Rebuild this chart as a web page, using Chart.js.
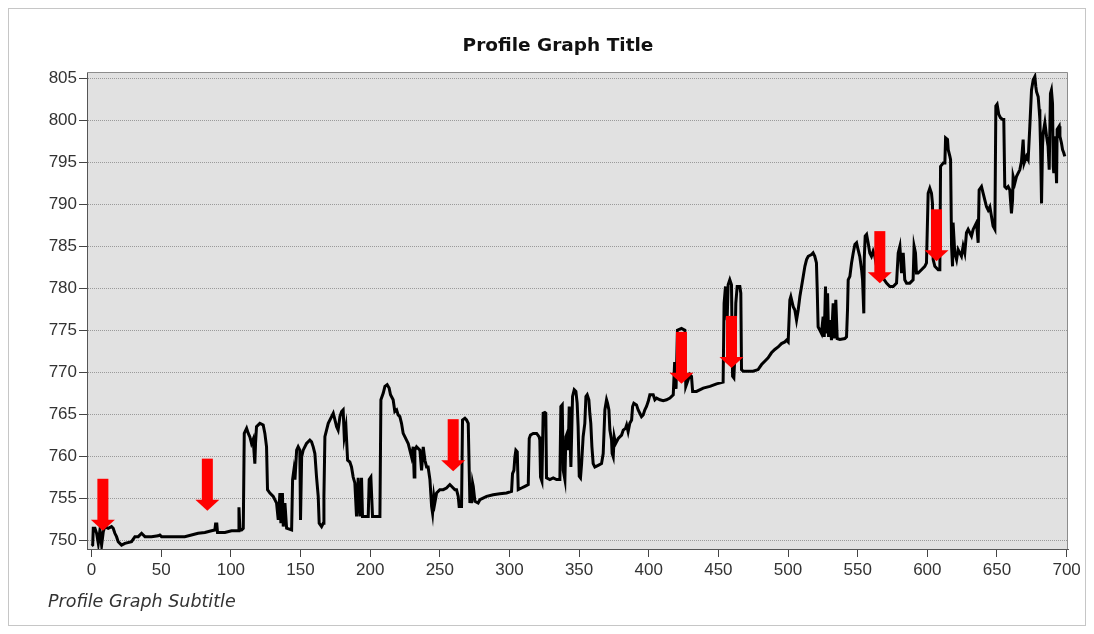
<!DOCTYPE html>
<html lang="en">
  <head>
    <meta charset="UTF-8" />
    <title>Profile Graph</title>
    <script src="https://cdn.jsdelivr.net/npm/chart.js"></script>
    <style>
      html, body { margin: 0; padding: 0; background: #ffffff; }
      #wrap { width: 1094px; height: 634px; }
    </style>
  </head>
  <body>
    <div id="wrap"><canvas id="profileChart" width="1094" height="634"></canvas></div>

    <script>
      // profile samples (distance along track, elevation)
      const distance = [
        0, 0.8, 1.2, 2.4, 3.6, 4.8, 6.0, 7.2, 8.4, 9.5, 11.9, 14.3, 15.5, 16.7, 17.9, 19.1, 20.3, 21.5, 23.9, 28.7,
        31.1, 33.5, 35.9, 37.1, 38.3, 43.0, 47.8, 49.0, 50.2, 57.4, 66.9, 71.7, 76.5, 81.3, 86.1, 88.5, 89.0, 89.9, 90.4, 95.7,
        100.5, 105.3, 105.8, 106.5, 107.7, 108.9, 109.6, 111.3, 112.5, 113.6, 114.8, 116.0, 117.2, 117.7, 118.4, 120.8, 123.2, 124.4, 125.6, 126.3,
        128.0, 130.4, 132.8, 134.0, 135.2, 135.9, 137.0, 137.6, 138.8, 140.0, 143.6, 144.3, 145.2, 146.0, 147.2, 148.3, 149.5, 150.0, 150.8, 151.9,
        154.3, 156.7, 157.9, 159.1, 160.3, 161.5, 162.7, 163.4, 165.1, 166.3, 166.8, 167.5, 169.9, 172.3, 173.5, 174.7, 175.9, 177.0, 178.3, 179.5,
        180.6, 181.4, 182.6, 183.8, 185.4, 186.6, 187.8, 189.0, 190.2, 191.4, 192.6, 193.8, 194.5, 198.6, 199.3, 200.5, 201.7, 207.0, 207.7, 209.4,
        210.6, 212.2, 213.6, 214.6, 216.5, 217.7, 219.0, 220.1, 221.3, 222.5, 223.7, 226.1, 227.3, 228.5, 229.7, 230.9, 231.6, 232.1, 233.3, 235.7,
        236.9, 238.1, 239.3, 240.5, 241.6, 242.9, 244.1, 244.8, 245.7, 246.4, 247.7, 250.0, 252.4, 254.8, 256.0, 257.2, 258.4, 259.6, 260.8, 262.0,
        263.2, 263.9, 265.6, 266.3, 268.0, 269.2, 270.4, 271.6, 272.1, 272.8, 273.5, 274.0, 275.2, 277.5, 278.8, 283.6, 288.3, 293.1, 297.9, 301.5,
        302.2, 303.2, 303.9, 304.6, 305.6, 306.3, 308.7, 311.1, 313.5, 314.2, 315.1, 317.1, 319.5, 321.3, 321.8, 322.3, 323.3, 324.2, 325.4, 326.1,
        326.6, 329.0, 331.4, 333.8, 336.2, 336.9, 337.9, 338.6, 339.8, 340.5, 341.4, 342.2, 342.9, 344.1, 345.3, 346.5, 347.7, 348.6, 349.3, 350.1,
        351.0, 351.8, 352.9, 354.1, 354.9, 355.8, 357.0, 357.7, 358.4, 359.2, 360.1, 361.3, 363.7, 366.1, 367.3, 368.5, 369.7, 370.4, 371.4, 372.1,
        373.3, 373.7, 374.5, 375.2, 376.2, 378.1, 380.5, 381.7, 383.3, 384.1, 385.2, 386.4, 387.7, 388.4, 389.3, 391.2, 392.4, 393.6, 394.8, 396.0,
        397.2, 398.4, 399.6, 400.8, 403.2, 404.4, 405.6, 408.0, 410.4, 412.8, 415.2, 417.6, 418.6, 419.6, 420.6, 423.5, 425.9, 426.6, 428.3, 429.5,
        430.7, 431.5, 434.3, 439.1, 443.9, 448.7, 453.4, 454.1, 455.1, 456.3, 457.0, 458.2, 459.4, 460.2, 461.1, 461.8, 462.5, 463.5, 465.4, 466.1,
        466.6, 467.8, 474.9, 478.5, 481.0, 483.3, 485.7, 488.1, 490.5, 492.9, 495.3, 497.7, 498.9, 500.1, 501.3, 502.0, 503.7, 504.9, 506.1, 507.3,
        508.5, 509.7, 510.9, 512.1, 513.3, 514.5, 516.9, 518.0, 519.2, 520.4, 520.9, 521.6, 522.8, 524.0, 525.2, 526.0, 526.9, 527.6, 528.4, 529.1,
        530.0, 531.2, 532.4, 533.1, 534.3, 535.3, 537.2, 540.8, 542.0, 542.7, 543.2, 544.4, 545.6, 546.8, 548.0, 549.2, 550.3, 551.5, 552.8, 553.5,
        554.4, 554.7, 555.4, 556.4, 557.5, 558.7, 559.9, 561.1, 562.3, 564.0, 565.9, 570.7, 573.1, 575.5, 577.9, 579.1, 580.3, 581.5, 582.7, 583.8,
        585.1, 587.4, 589.8, 590.5, 591.5, 592.2, 593.4, 595.8, 598.2, 599.4, 600.6, 601.8, 603.0, 603.7, 604.2, 605.4, 607.8, 609.0, 609.5, 611.4,
        612.6, 613.1, 614.5, 615.0, 616.2, 616.7, 617.4, 618.1, 618.5, 619.7, 621.0, 622.1, 623.3, 624.5, 625.7, 626.9, 628.1, 629.3, 630.5, 631.7,
        632.9, 634.1, 635.3, 636.5, 637.2, 638.9, 640.1, 641.3, 642.5, 643.7, 644.9, 646.1, 647.2, 648.5, 649.2, 650.1, 651.3, 652.5, 654.0, 654.9,
        655.6, 656.8, 658.0, 659.2, 660.4, 661.2, 661.6, 662.8, 664.0, 666.4, 667.6, 668.8, 669.5, 671.2, 672.4, 673.6, 674.8, 676.0, 677.2, 677.9,
        678.4, 679.6, 680.3, 680.8, 681.3, 682.0, 682.7, 683.2, 684.4, 685.6, 686.7, 687.5, 688.4, 689.1, 689.9, 690.4, 690.8, 691.5, 692.8, 693.2,
        694.7, 695.2, 696.3, 697.1, 698.0, 698.7
      ];
      const elevation = [
        749.3, 749.4, 751.4, 751.4, 750.8, 749.6, 751.2, 749.4, 751.0, 751.6, 751.4, 751.6, 751.4, 750.8, 750.4, 749.8, 749.6, 749.4, 749.6, 749.8,
        750.4, 750.4, 750.8, 750.6, 750.4, 750.4, 750.5, 750.6, 750.4, 750.4, 750.4, 750.6, 750.8, 750.9, 751.1, 751.2, 751.9, 751.9, 750.9, 750.9,
        751.1, 751.1, 753.9, 751.2, 751.2, 751.4, 762.7, 763.3, 762.7, 762.3, 761.5, 762.0, 759.1, 761.5, 763.5, 763.9, 763.7, 762.7, 761.1, 756.0,
        755.6, 755.2, 754.4, 752.4, 755.6, 752.0, 755.6, 751.6, 754.4, 751.4, 751.2, 757.2, 758.3, 757.2, 760.7, 761.1, 760.7, 752.4, 759.9, 760.7,
        761.5, 761.9, 761.7, 761.1, 760.3, 757.5, 755.2, 752.0, 751.6, 752.0, 755.2, 762.3, 763.9, 764.7, 765.1, 764.3, 763.5, 763.1, 764.7, 765.3,
        765.5, 762.3, 763.5, 759.5, 759.3, 758.7, 757.5, 756.8, 752.8, 757.4, 752.8, 757.4, 752.8, 752.8, 757.2, 757.5, 752.8, 752.8, 766.7, 767.5,
        768.3, 768.5, 768.1, 767.3, 766.7, 765.3, 765.5, 764.9, 764.7, 763.9, 762.7, 761.9, 761.5, 760.7, 759.9, 761.1, 757.5, 760.7, 761.1, 760.7,
        758.3, 761.1, 759.5, 758.7, 758.7, 757.2, 754.0, 753.2, 755.2, 754.4, 755.6, 756.0, 756.0, 756.2, 756.4, 756.6, 756.4, 756.2, 756.0, 756.0,
        755.2, 754.0, 754.0, 764.3, 764.5, 764.3, 763.9, 754.4, 756.4, 754.4, 756.8, 756.4, 754.6, 754.4, 754.8, 755.2, 755.4, 755.5, 755.6, 755.8,
        757.9, 758.3, 759.9, 760.7, 760.5, 756.0, 756.2, 756.4, 756.6, 762.1, 762.5, 762.7, 762.7, 762.3, 761.9, 757.5, 757.0, 765.1, 765.2, 765.1,
        757.4, 757.2, 757.4, 757.2, 757.2, 765.9, 766.1, 758.3, 757.2, 762.3, 762.7, 760.7, 765.9, 758.7, 767.1, 767.9, 767.7, 766.3, 763.5, 757.6,
        757.4, 759.1, 762.3, 763.9, 767.1, 767.3, 766.7, 765.1, 763.9, 761.1, 759.1, 758.7, 758.9, 759.1, 760.3, 765.5, 766.7, 766.3, 765.5, 763.1,
        761.9, 760.3, 759.9, 762.3, 761.5, 762.1, 762.5, 763.1, 763.3, 763.7, 762.9, 763.9, 764.3, 765.9, 766.3, 766.1, 765.5, 765.1, 764.7, 764.9,
        765.5, 765.9, 766.5, 767.3, 767.3, 766.7, 766.9, 766.7, 766.6, 766.7, 766.9, 767.3, 771.2, 768.0, 775.0, 775.2, 775.0, 768.3, 769.1, 769.7,
        769.5, 767.7, 767.7, 768.1, 768.3, 768.6, 768.8, 778.2, 780.2, 776.2, 780.4, 781.0, 780.4, 769.5, 769.3, 771.9, 778.2, 780.2, 780.2, 779.4,
        770.3, 770.1, 770.1, 770.3, 770.9, 771.3, 771.7, 772.3, 772.7, 773.0, 773.4, 773.6, 773.8, 773.6, 778.6, 779.0, 777.8, 777.4, 776.2, 777.4,
        779.0, 780.2, 781.4, 782.6, 783.4, 783.8, 784.0, 784.2, 783.8, 783.0, 780.2, 775.4, 775.0, 774.6, 776.6, 774.2, 780.2, 774.6, 779.4, 774.2,
        776.2, 773.8, 778.2, 774.0, 778.6, 774.0, 773.9, 774.0, 774.2, 777.4, 781.0, 781.4, 783.0, 784.2, 785.2, 785.4, 784.6, 783.8, 782.2, 781.0,
        777.0, 783.4, 786.2, 786.4, 785.4, 784.2, 783.8, 784.4, 783.8, 782.2, 781.8, 780.6, 780.2, 780.2, 780.6, 784.2, 785.0, 781.8, 784.2, 781.0,
        780.6, 780.6, 781.0, 785.0, 784.2, 781.8, 781.8, 782.2, 782.6, 783.0, 791.3, 791.9, 791.3, 790.1, 783.4, 782.6, 782.2, 782.2, 794.5, 794.9,
        794.9, 797.9, 797.7, 796.5, 795.7, 795.3, 785.0, 782.6, 787.8, 784.2, 783.4, 784.6, 784.2, 783.8, 785.0, 784.2, 786.6, 787.0, 786.6, 786.2,
        787.0, 787.4, 787.8, 785.4, 791.7, 792.1, 791.3, 790.5, 789.7, 789.3, 789.7, 788.5, 787.4, 787.0, 801.7, 801.9, 800.7, 800.3, 800.1, 800.1,
        792.1, 791.9, 792.1, 791.7, 788.9, 790.5, 793.3, 792.5, 793.3, 794.1, 795.1, 797.7, 794.9, 795.7, 795.3, 799.3, 803.6, 804.8, 805.2, 804.0,
        803.4, 802.8, 801.3, 800.1, 796.9, 790.1, 796.9, 798.5, 799.7, 798.1, 796.9, 794.1, 803.2, 803.6, 802.0, 794.5, 793.7, 798.1, 792.5, 798.9,
        799.3, 798.1, 797.3, 796.5, 796.1, 795.7
      ];

      // red marker arrows (tip position)
      const arrowDistance = [8.1, 83.1, 259.6, 423.5, 459.4, 565.9, 606.6];
      const arrowElevation = [751.1, 753.5, 758.2, 768.6, 770.5, 780.6, 783.2];

      const xTicks = [0, 50, 100, 150, 200, 250, 300, 350, 400, 450, 500, 550, 600, 650, 700];
      const yTicks = [750, 755, 760, 765, 770, 775, 780, 785, 790, 795, 800, 805];

      const FONT = "'Liberation Sans', Arial, sans-serif";
      const WIDE_FONT = "'DejaVu Sans', Verdana, sans-serif";

      const plotFrame = {
        id: "plotFrame",
        beforeDraw(chart) {
          const { ctx, chartArea: a } = chart;
          ctx.save();
          ctx.fillStyle = "#ffffff";
          ctx.fillRect(0, 0, chart.width, chart.height);
          ctx.strokeStyle = "#c6c6c6";
          ctx.lineWidth = 1;
          ctx.strokeRect(8.5, 8.5, 1077, 617);
          ctx.fillStyle = "#e1e1e1";
          ctx.fillRect(a.left, a.top, a.right - a.left, a.bottom - a.top);
          ctx.restore();
        },
        afterDraw(chart) {
          const { ctx, chartArea: a } = chart;
          ctx.save();
          ctx.strokeStyle = "#8c8c8c";
          ctx.lineWidth = 1;
          ctx.beginPath();
          ctx.moveTo(a.left, a.top + 0.5);
          ctx.lineTo(a.right - 0.5, a.top + 0.5);
          ctx.lineTo(a.right - 0.5, a.bottom);
          ctx.stroke();
          ctx.restore();
        },
      };

      const arrows = {
        id: "arrows",
        afterDatasetsDraw(chart) {
          const { ctx, scales } = chart;
          ctx.save();
          ctx.fillStyle = "#ff0000";
          arrowDistance.forEach((d, i) => {
            const px = scales.x.getPixelForValue(d);
            const py = scales.y.getPixelForValue(arrowElevation[i]);
            ctx.fillRect(px - 5.5, py - 52, 11, 42);
            ctx.beginPath();
            ctx.moveTo(px - 12, py - 11);
            ctx.lineTo(px + 12, py - 11);
            ctx.lineTo(px, py);
            ctx.closePath();
            ctx.fill();
          });
          ctx.restore();
        },
      };

      new Chart(document.getElementById("profileChart"), {
        type: "scatter",
        data: {
          datasets: [
            {
              label: "Profile",
              data: distance.map((d, i) => ({ x: d, y: elevation[i] })),
              showLine: true,
              borderColor: "#000000",
              borderWidth: 3,
              pointRadius: 0,
              tension: 0,
            },
          ],
        },
        plugins: [plotFrame, arrows],
        options: {
          responsive: false,
          animation: false,
          layout: { padding: { left: 48, right: 26, top: 0, bottom: 0 } },
          scales: {
            x: {
              type: "linear",
              min: -3.3,
              max: 701,
              afterBuildTicks: (s) => { s.ticks = xTicks.map((v) => ({ value: v })); },
              afterFit: (s) => { s.height = 35; },
              grid: { drawOnChartArea: false, drawTicks: true, tickLength: 8, tickColor: "#444" },
              border: { display: true, color: "#555", width: 1 },
              ticks: { color: "#333", font: { family: FONT, size: 17 }, padding: 3, maxRotation: 0, autoSkip: false },
            },
            y: {
              min: 748.93,
              max: 805.75,
              afterBuildTicks: (s) => { s.ticks = yTicks.map((v) => ({ value: v })); },
              afterFit: (s) => { s.width = 39; },
              grid: { color: "#9a9a9a", lineWidth: 1, tickLength: 8, tickColor: "#444" },
              border: { display: true, color: "#555", width: 1, dash: [1, 1] },
              ticks: { color: "#333", font: { family: FONT, size: 17 }, padding: 2, autoSkip: false },
            },
          },
          plugins: {
            legend: { display: false },
            tooltip: { enabled: false },
            title: {
              display: true,
              text: "Profile Graph Title",
              color: "#111",
              font: { family: WIDE_FONT, size: 18.5, weight: "bold" },
              padding: { top: 34.9, bottom: 14.9 },
            },
            subtitle: {
              display: true,
              text: "Profile Graph Subtitle",
              position: "bottom",
              align: "start",
              color: "#333",
              font: { family: WIDE_FONT, size: 17.5, style: "italic" },
              padding: { top: 7.5, bottom: 21.5 },
            },
          },
        },
      });
    </script>
  </body>
</html>
